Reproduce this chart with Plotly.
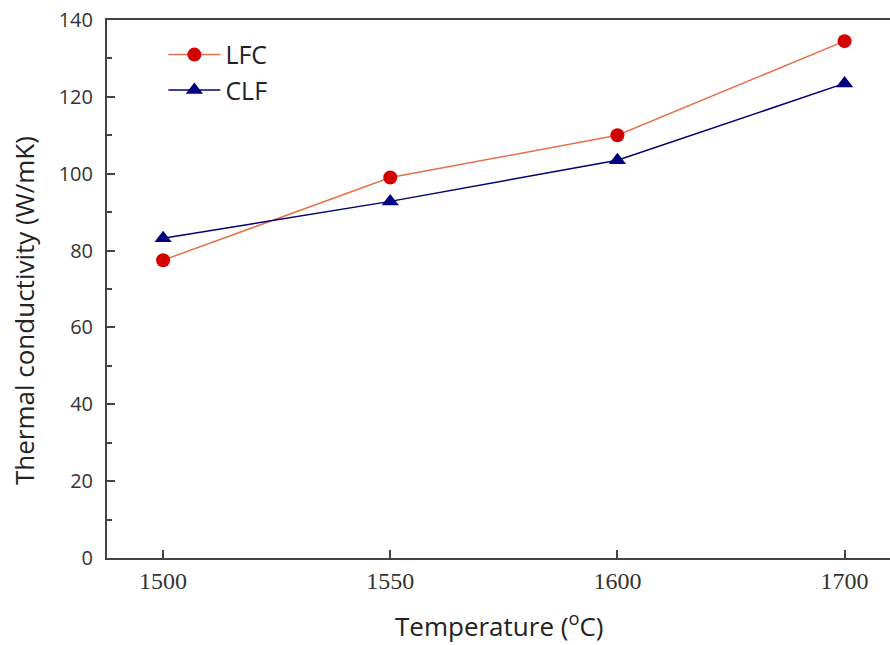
import plotly.graph_objects as go

temps = ["1500", "1550", "1600", "1700"]
lfc = [77.5, 99.0, 110.0, 134.5]
clf = [83.2, 92.8, 103.5, 123.5]

fig = go.Figure()
fig.add_trace(go.Scatter(
    x=temps, y=lfc, name="LFC", mode="lines+markers",
    line=dict(color="#e8704a", width=1.5),
    marker=dict(symbol="circle", size=14, color="#d40000"),
))
fig.add_trace(go.Scatter(
    x=temps, y=clf, name="CLF", mode="lines+markers",
    line=dict(color="#000070", width=1.5),
    marker=dict(symbol="triangle-up", size=15, color="#000080"),
))

fig.update_layout(
    width=890, height=645,
    paper_bgcolor="white", plot_bgcolor="white",
    margin=dict(l=107, r=0, t=20, b=87),
    showlegend=True,
    legend=dict(x=0.072, y=0.978, xanchor="left", yanchor="top",
                font=dict(family="Open Sans, DejaVu Sans", size=25, color="#222"),
                bgcolor="rgba(0,0,0,0)", tracegroupgap=0, itemwidth=52),
    font=dict(family="Open Sans, DejaVu Sans", color="#222"),
    annotations=[
        dict(text="Temperature (<sup>o</sup>C)", xref="paper", yref="paper",
             x=0.5, y=-0.1245, xanchor="center", yanchor="middle", showarrow=False,
             font=dict(family="Open Sans, DejaVu Sans", size=26, color="#222")),
        dict(text="Thermal conductivity (W/mK)", xref="paper", yref="paper",
             x=-0.106, y=0.459, xanchor="center", yanchor="middle", showarrow=False,
             textangle=-90,
             font=dict(family="Open Sans, DejaVu Sans", size=26, color="#222")),
    ],
)
fig.update_xaxes(
    type="category", range=[-0.247, 3.2],
    showline=True, linecolor="#444", linewidth=2, mirror=True,
    ticks="inside", ticklen=8, tickcolor="#444", tickwidth=1.5,
    showgrid=False, zeroline=False,
    tickfont=dict(family="Liberation Serif, Times New Roman, serif", size=24, color="#333"),
)
fig.update_yaxes(
    range=[0, 140], dtick=20, tick0=0,
    showline=True, linecolor="#444", linewidth=2,
    ticks="inside", ticklen=8, tickcolor="#444", tickwidth=1.5,
    minor=dict(dtick=10, ticks="inside", ticklen=5, tickcolor="#444", tickwidth=1.5, showgrid=False),
    showgrid=False, zeroline=False, ticklabelstandoff=8,
    tickfont=dict(family="Open Sans, DejaVu Sans", size=20, color="#333"),
)

fig.write_html("out.html")
